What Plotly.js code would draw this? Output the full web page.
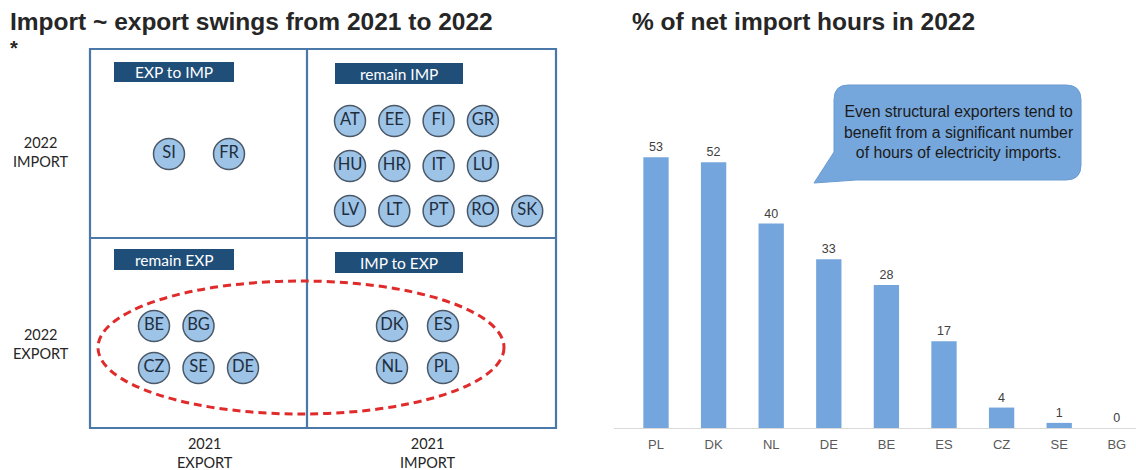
<!DOCTYPE html>
<html><head><meta charset="utf-8">
<script src="https://cdn.plot.ly/plotly-3.0.1.min.js"></script>
<style>html,body{margin:0;padding:0;background:#fff;}#chart{width:1136px;height:470px;}</style>
</head><body><div id="chart"></div>
<script>
// ---- data ----
const expToImp = ["SI", "FR"];
const remainImp = ["AT","EE","FI","GR","HU","HR","IT","LU","LV","LT","PT","RO","SK"];
const remainExp = ["BE","BG","CZ","SE","DE"];
const impToExp = ["DK","ES","NL","PL"];
const barCountries = ["PL","DK","NL","DE","BE","ES","CZ","SE","BG"];
const importHoursPct = [53, 52, 40, 33, 28, 17, 4, 1, 0];

// ---- layout helpers (pixel space of the hidden full-figure axes) ----
const W = 1136, H = 470;
function grid(list, rowSizes, x0, dx, y0, dy) {
  const xs = [], ys = [];
  let i = 0;
  rowSizes.forEach((n, r) => {
    for (let c = 0; c < n && i < list.length; c++, i++) {
      xs.push(x0 + c * dx); ys.push(y0 + r * dy);
    }
  });
  return {xs, ys};
}
const groups = [
  {list: expToImp,  g: grid(expToImp, [2], 169, 60, 154, 0)},
  {list: remainImp, g: grid(remainImp, [4,4,5], 350, 44.3, 121, 45)},
  {list: remainExp, g: grid(remainExp, [2,3], 154, 44.5, 326, 42)},
  {list: impToExp,  g: grid(impToExp, [2,2], 392, 51, 326, 42)}
];

const traces = groups.map(o => ({
  type: 'scatter', mode: 'markers+text', xaxis: 'x', yaxis: 'y',
  x: o.g.xs, y: o.g.ys, text: o.list, textposition: 'middle center',
  textfont: {family: 'Lato, "Open Sans", sans-serif', size: 16.5, color: '#1f2d3d'},
  marker: {size: 31, color: '#9dc3e6', line: {color: '#4a5868', width: 1.5}},
  hoverinfo: 'skip', showlegend: false, cliponaxis: false
}));

traces.push({
  type: 'bar', xaxis: 'x2', yaxis: 'y2',
  x: barCountries, y: importHoursPct, text: importHoursPct.map(String),
  textposition: 'outside', cliponaxis: false,
  textfont: {family: '"Liberation Sans", Arial, sans-serif', size: 12.5, color: '#404040'},
  marker: {color: '#74a6dd'}, width: 0.44, showlegend: false, hoverinfo: 'skip'
});

const boxColor = '#4a78a8';
const shapes = [
  {type:'rect', xref:'x', yref:'y', x0:90, x1:556, y0:49, y1:428, line:{color:boxColor, width:2.2}, layer:'below'},
  {type:'line', xref:'x', yref:'y', x0:307, x1:307, y0:49, y1:428, line:{color:boxColor, width:2.2}, layer:'below'},
  {type:'line', xref:'x', yref:'y', x0:90, x1:556, y0:238, y1:238, line:{color:boxColor, width:2.2}, layer:'below'},
  {type:'circle', xref:'x', yref:'y', x0:98, x1:504, y0:281, y1:414, line:{color:'#e02b2b', width:3, dash:'8px,5px'}, layer:'below'},
  {type:'path', xref:'x', yref:'y', layer:'below',
   path:'M 848,85 L 1066,85 Q 1081,85 1081,100 L 1081,165 Q 1081,180 1066,180 L 856,180 L 814,183 L 834,152 L 834,100 Q 834,85 848,85 Z',
   fillcolor:'#76a7dc', line:{color:'#6b9bd2', width:1}}
];
const tags = [
  {t:'EXP to IMP', x0:114, x1:234, y0:62, y1:82},
  {t:'remain IMP', x0:335, x1:463, y0:63, y1:84},
  {t:'remain EXP', x0:114, x1:234, y0:249, y1:270},
  {t:'IMP to EXP', x0:335, x1:463, y0:252, y1:273}
];
const annotations = [];
const calibri = 'Lato, "Open Sans", sans-serif';
tags.forEach(b => {
  shapes.push({type:'rect', xref:'x', yref:'y', x0:b.x0, x1:b.x1, y0:b.y0, y1:b.y1, fillcolor:'#1f4e79', line:{width:0}, layer:'below'});
  annotations.push({xref:'x', yref:'y', x:(b.x0+b.x1)/2, y:(b.y0+b.y1)/2, text:b.t, showarrow:false,
    font:{family:calibri, size:15.5, color:'#ffffff'}});
});
function ann(x, y, text, font, extra) {
  annotations.push(Object.assign({xref:'x', yref:'y', x, y, text, showarrow:false, font}, extra || {}));
}
const titleFont = {family:'"Liberation Sans", Arial, sans-serif', size:24.5, color:'#262626'};
ann(8, 21, '<b>Import ~ export swings from 2021 to 2022</b>', titleFont, {xanchor:'left'});
ann(630, 21, '<b>% of net import hours in 2022</b>', titleFont, {xanchor:'left'});
ann(14, 48, '<b>*</b>', {family:'"Liberation Sans", Arial, sans-serif', size:20, color:'#262626'});
const lab = {family:calibri, size:14.5, color:'#262626'};
ann(41, 152, '2022<br>IMPORT', lab);
ann(41, 344, '2022<br>EXPORT', lab);
ann(205, 453, '2021<br>EXPORT', lab);
ann(428, 453, '2021<br>IMPORT', lab);
ann(958, 132, 'Even structural exporters tend to<br>benefit from a significant number<br>of hours of electricity imports.',
  {family:'"Liberation Sans", Arial, sans-serif', size:15.8, color:'#1a1a1a'});

// bar axis geometry: category spacing 57.6px, first center at 656px
const step = 57.6, c0 = 656, axLeft = 614, axBase = 428, pxPerUnit = 5.11, axTop = 130;
const layout = {
  width: W, height: H, margin:{l:0, r:0, t:0, b:0}, paper_bgcolor:'#fff', plot_bgcolor:'rgba(0,0,0,0)',
  showlegend:false,
  xaxis:{domain:[0,1], range:[0,W], visible:false, fixedrange:true},
  yaxis:{domain:[0,1], range:[H,0], visible:false, fixedrange:true},
  xaxis2:{domain:[axLeft/W, 1], range:[(axLeft-c0)/step, (W-c0)/step], anchor:'y2', showline:true, linecolor:'#d9d9d9', linewidth:1,
    ticks:'', showgrid:false, zeroline:false, ticklabelstandoff:4,
    tickfont:{family:'"Liberation Sans", Arial, sans-serif', size:13, color:'#595959'}},
  yaxis2:{domain:[(H-axBase)/H, (H-axTop)/H], range:[0,(axBase-axTop)/pxPerUnit], anchor:'x2', visible:false, showgrid:false, zeroline:false},
  shapes, annotations
};
Plotly.newPlot('chart', traces, layout, {staticPlot:true, displayModeBar:false});
</script></body></html>
